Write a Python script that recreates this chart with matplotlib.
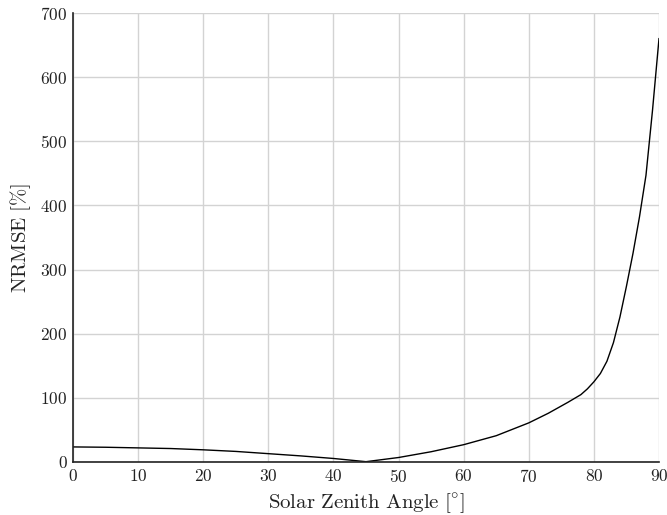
import matplotlib
matplotlib.use("Agg")
import matplotlib.pyplot as plt

plt.rcParams['font.family'] = 'serif'
plt.rcParams['font.serif'] = ['cmr10', 'DejaVu Serif']
plt.rcParams['mathtext.fontset'] = 'cm'
plt.rcParams['axes.formatter.use_mathtext'] = True

angle = [0, 5, 10, 15, 20, 25, 30, 35, 40, 45, 50, 55, 60, 65, 70, 73, 76, 78,
         79, 80, 81, 82, 83, 84, 85, 86, 87, 88, 89, 90]
nrmse = [23.5, 23, 22, 21, 19, 16.5, 13, 9.5, 5.5, 0.5, 7, 16, 27, 41, 61, 76, 93, 105,
         114, 125, 138, 157, 186, 226, 274, 325, 382, 447, 548, 660]
xticks = [0, 10, 20, 30, 40, 50, 60, 70, 80, 90]
yticks = [0, 100, 200, 300, 400, 500, 600, 700]

fig = plt.figure(figsize=(6.67, 5.15), dpi=100)
ax = fig.add_axes([73/667, 1 - 462/515, 586/667, 449/515])
ax.plot(angle, nrmse, color='black', linewidth=1.0)
ax.set_xlim(0, 90)
ax.set_ylim(0, 700)
ax.set_xticks(xticks)
ax.set_yticks(yticks)
ax.grid(True, color='#d3d3d3', linewidth=1.0)
ax.set_axisbelow(True)
for s in ['top', 'right']:
    ax.spines[s].set_visible(False)
for s in ['left', 'bottom']:
    ax.spines[s].set_color('#222222')
    ax.spines[s].set_linewidth(1.2)
ax.tick_params(length=0, labelsize=12.5, pad=4, colors='#222222')
ax.set_xlabel(r'$\mathrm{Solar\ Zenith\ Angle\ [^{\circ}]}$', fontsize=15, color='#222222', labelpad=5)
ax.set_ylabel(r'$\mathrm{NRMSE\ [\%]}$', fontsize=15, color='#222222', labelpad=5)
fig.savefig('out.png', dpi=100)
